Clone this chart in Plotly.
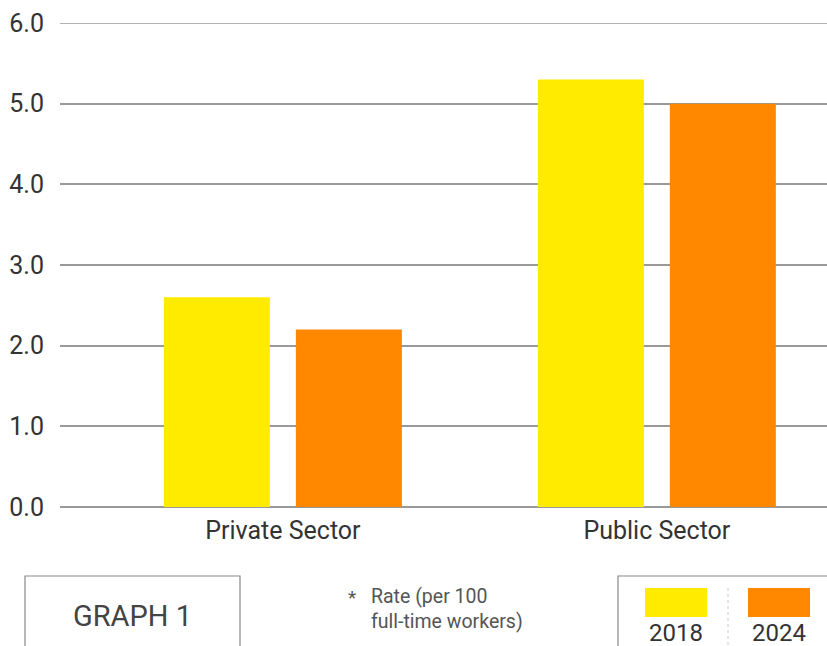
import plotly.graph_objects as go

categories = ["Private Sector", "Public Sector"]
years = ["2018", "2024"]
values_2018 = [2.6, 5.3]
values_2024 = [2.2, 5.0]
colors = ["#FFEB00", "#FF8800"]
y_ticks = [0, 1, 2, 3, 4, 5, 6]
y_tick_labels = ["0.0", "1.0", "2.0", "3.0", "4.0", "5.0", "6.0"]

W, H = 827, 646
L, T, B = 60, 23, 139
PW, PH = W - L, H - T - B

def px(x):
    return (x - L) / PW

def py(y):
    return (H - B - y) / PH

fig = go.Figure()
for vals, name, col in zip([values_2018, values_2024], years, colors):
    fig.add_trace(go.Bar(x=categories, y=vals, name=name, marker=dict(color=col, line=dict(width=0))))

fig.update_layout(
    width=W, height=H,
    margin=dict(l=L, r=0, t=T, b=B),
    paper_bgcolor="white", plot_bgcolor="white",
    barmode="group", bargap=0.294, bargroupgap=0.197,
    showlegend=False,
    font=dict(family="Roboto", color="#333333"),
    xaxis=dict(range=[-0.596, 1.455], showgrid=False, showline=False, ticks="",
               ticklabelstandoff=6, tickfont=dict(size=25, color="#333333")),
    yaxis=dict(range=[0, 6], tickvals=y_ticks, ticktext=y_tick_labels, showgrid=True,
               gridcolor="#999999", gridwidth=1.5, zeroline=True, zerolinecolor="#999999",
               zerolinewidth=1.5, showline=False, ticks="", ticklabelstandoff=15,
               tickfont=dict(size=25, color="#333333")),
)

shapes = []
annotations = []
# top gridline (hidden by plotly at the range edge)
shapes.append(dict(type="line", xref="paper", yref="y", x0=0, x1=1, y0=y_ticks[-1], y1=y_ticks[-1],
                   line=dict(color="#999999", width=1.5), layer="below"))
# GRAPH 1 box (open bottom)
shapes.append(dict(type="path", xref="paper", yref="paper",
                   path=f"M {px(25)} {py(650)} L {px(25)} {py(576)} L {px(240)} {py(576)} L {px(240)} {py(650)}",
                   line=dict(color="#888888", width=1.2)))
annotations.append(dict(text="GRAPH 1", xref="paper", yref="paper", x=px(132), y=py(616),
                        showarrow=False, font=dict(size=29, color="#444444"), xanchor="center", yanchor="middle"))
# footnote
annotations.append(dict(text="*", xref="paper", yref="paper", x=px(346), y=py(597),
                        showarrow=False, font=dict(size=19, color="#555555"), xanchor="left", yanchor="middle"))
annotations.append(dict(text="Rate (per 100<br>full-time workers)", xref="paper", yref="paper", x=px(369), y=py(609),
                        showarrow=False, font=dict(size=19.5, color="#555555"), xanchor="left", yanchor="middle", align="left"))
# legend box
shapes.append(dict(type="path", xref="paper", yref="paper",
                   path=f"M {px(618)} {py(650)} L {px(618)} {py(576)} L {px(830)} {py(576)}",
                   line=dict(color="#888888", width=1.2)))
shapes.append(dict(type="line", xref="paper", yref="paper", x0=px(728), x1=px(728), y0=py(588), y1=py(646),
                   line=dict(color="#cccccc", width=1, dash="dot")))
for i, (yr, col) in enumerate(zip(years, colors)):
    x0 = 645 + i * 103
    shapes.append(dict(type="rect", xref="paper", yref="paper", x0=px(x0), x1=px(x0 + 62),
                       y0=py(617), y1=py(588), fillcolor=col, line=dict(width=0)))
    annotations.append(dict(text=yr, xref="paper", yref="paper", x=px(x0 + 31), y=py(633),
                            showarrow=False, font=dict(size=24, color="#333333"), xanchor="center", yanchor="middle"))

fig.update_layout(shapes=shapes, annotations=annotations)
fig.write_html("out.html", config={"displayModeBar": False},
               post_script="document.body.style.margin='0';document.body.style.overflow='hidden';")
